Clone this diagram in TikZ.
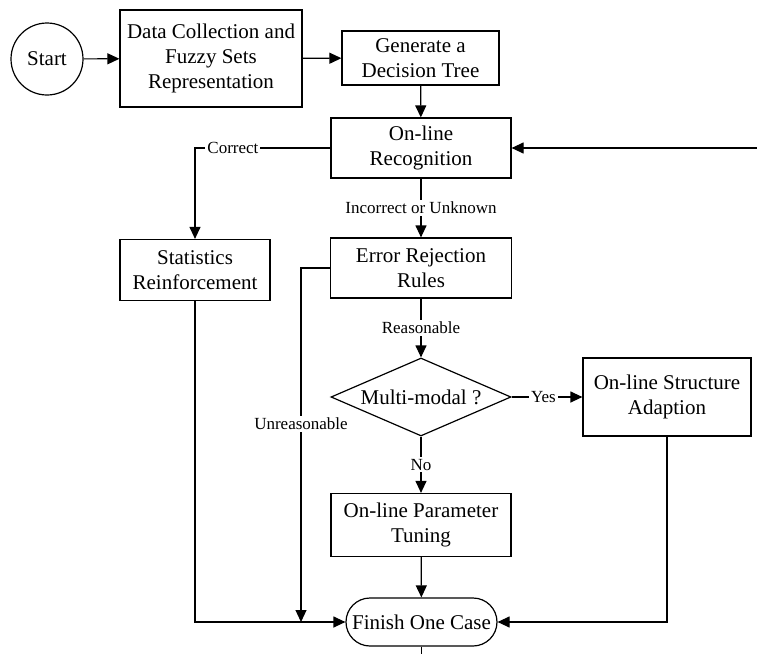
\documentclass[tikz,border=0pt]{standalone}
\usepackage{fontspec}
\setmainfont{Liberation Serif}
\usetikzlibrary{arrows.meta,shapes.geometric}
\newcommand{\boxfont}{\fontsize{10.5}{12.5}\selectfont}
\newcommand{\tagfont}{\fontsize{8.5}{10}\selectfont}
\begin{document}
\begin{tikzpicture}[x=0.5pt,y=-0.5pt,line width=0.6pt]
		\tikzstyle{every node}+=[inner sep=0pt]
		\tikzstyle{box}=[draw, rectangle, align=center, font=\boxfont]
		\tikzstyle{flow}=[-{Triangle[length=6pt,width=5.5pt]}]
		\tikzstyle{tag}=[fill=white, inner sep=1pt, font=\tagfont]
		\useasboundingbox (0,0) rectangle (757,654);
		% top row
		\node [draw, circle, minimum size=36pt, font=\boxfont] (start) at (47,59) {Start};
		\node [box, minimum width=91pt, minimum height=48.5pt] (collect) at (211,58.5) {Data Collection and\\Fuzzy Sets\\Representation};
		\node [box, minimum width=78.5pt, minimum height=27pt] (tree) at (420.5,58) {Generate a\\Decision Tree};
		% main column
		\node [box, minimum width=90pt, minimum height=30pt] (recog) at (421,148) {On-line\\Recognition};
		\node [box, minimum width=75pt, minimum height=30.5pt] (stats) at (195,270) {Statistics\\Reinforcement};
		\node [box, minimum width=90.5pt, minimum height=30pt] (reject) at (421,268) {Error Rejection\\Rules};
		\node [draw, diamond, aspect=2.3, minimum width=90pt, minimum height=39pt, font=\boxfont] (multi) at (421,397) {Multi-modal ?};
		\node [box, minimum width=84pt, minimum height=39pt] (struct) at (667,397) {On-line Structure\\Adaption};
		\node [box, minimum width=90pt, minimum height=31.5pt] (tune) at (421,525) {On-line Parameter\\Tuning};
		\node [draw, rectangle, rounded corners=12pt, minimum width=75.5pt, minimum height=24pt, font=\boxfont] (finish) at (421.5,622) {Finish One Case};
		% loose ends
		\coordinate (loopin) at (757,148);
		\coordinate (unrsn) at (301,622);
		\coordinate (out) at (421.5,654);
		% connectors
		\draw [flow] (start) -- (collect);
		\draw [flow] (collect) -- (tree);
		\draw [flow] (tree) -- (recog);
		\draw [flow] (loopin) -- (recog);
		\draw [flow] (recog.west) -| node [tag, pos=0.36] {Correct} (stats.north);
		\draw [flow] (recog) -- node [tag] {Incorrect or Unknown} (reject);
		\draw [flow] (reject) -- node [tag] {Reasonable} (multi);
		\draw [flow] (multi) -- node [tag, pos=0.45] {Yes} (struct);
		\draw [flow] (multi) -- node [tag] {No} (tune);
		\draw [flow] (tune) -- (finish);
		\draw [flow] (reject.west) -| node [tag, pos=0.72] {Unreasonable} (unrsn);
		\draw [flow] (stats.south) |- (finish.west);
		\draw [flow] (struct.south) |- (finish.east);
		\draw (finish) -- (out);
\end{tikzpicture}
\end{document}
